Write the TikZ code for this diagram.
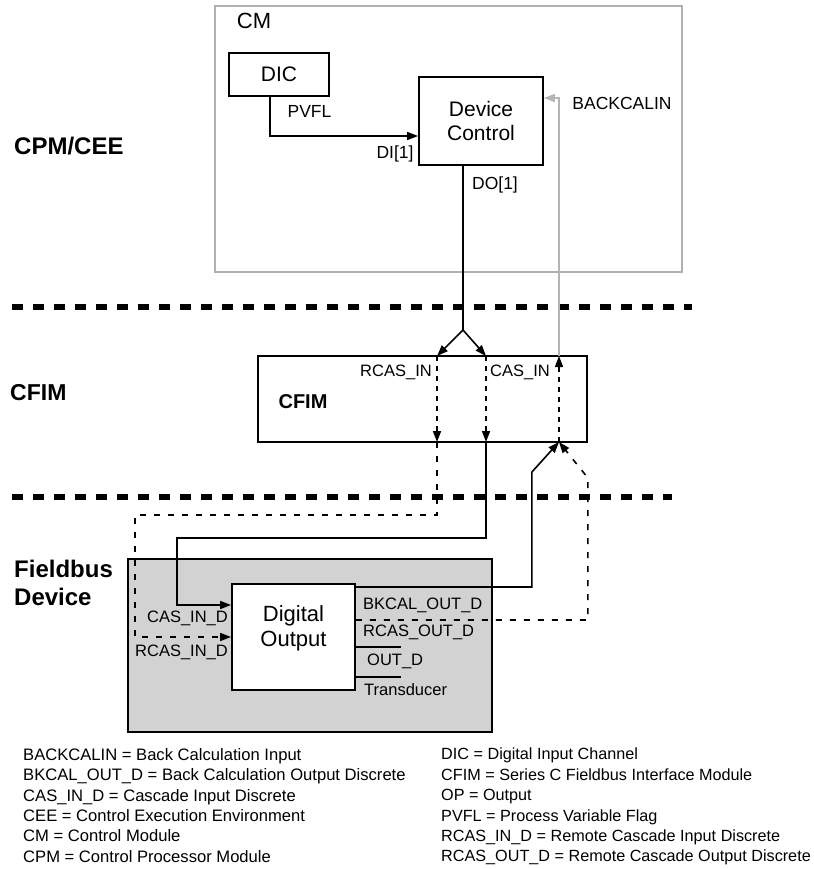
\documentclass[tikz,border=0pt]{standalone}
\usepackage{fontspec}
\setmainfont{Liberation Sans}
\usetikzlibrary{arrows.meta,positioning}
\definecolor{cmgray}{HTML}{B0B0B0}
\definecolor{backgray}{HTML}{B4B4B4}
\definecolor{devgray}{HTML}{D2D2D2}

\begin{document}
\begin{tikzpicture}[
  x=1pt,y=-1pt,
  blk/.style={rectangle,draw=black,line width=1.8pt,fill=white,align=center,inner sep=0pt},
  lbl/.style={inner sep=0pt,font=\fontsize{17.5}{20}\selectfont},
  sml/.style={inner sep=0pt,font=\fontsize{16.5}{19}\selectfont},
  ttl/.style={inner sep=0pt,align=left,font=\fontsize{24}{28}\selectfont\bfseries},
  arr/.style={-{Triangle[length=11pt,width=8pt]},line width=1.6pt},
  darr/.style={arr,dash pattern=on 5pt off 5pt},
  dotarr/.style={arr,dash pattern=on 6pt off 8pt},
  zone/.style={line width=6pt,dash pattern=on 11pt off 10pt},
  leg/.style={inner sep=0pt,anchor=north west,align=left,font=\fontsize{16.6}{20.4}\selectfont}
]
\useasboundingbox (0,0) rectangle (813,869);
% zone borders
\draw[zone] (12,307) -- (692,307);
\draw[zone] (12,497) -- (672,497);
\node[ttl,anchor=west] (cpm) at (14,146) {CPM/CEE};
\node[ttl,anchor=west,font=\fontsize{23}{28}\selectfont\bfseries] (cfimzone) at (10,393) {CFIM};
\node[ttl,anchor=west] (fbus) at (14,583) {Fieldbus\\Device};
% control module
\node[draw=cmgray,line width=1.6pt,minimum width=467pt,minimum height=266pt,inner sep=0pt] (cm) at (448.5,139) {};
\node[lbl,font=\fontsize{22}{24}\selectfont] (cmlbl) at (254,21) {CM};
\node[blk,minimum width=100pt,minimum height=43pt,font=\fontsize{21}{24}\selectfont] (dic) at (279,74.5) {DIC};
\node[blk,minimum width=124pt,minimum height=88pt,font=\fontsize{21}{24}\selectfont] (devctl) at (481,121) {Device\\Control};
\draw[arr] ([xshift=-9pt]dic.south) |- ([yshift=-15pt]devctl.west);
\node[lbl] (pvfl) at (309.5,111) {PVFL};
\node[lbl] (di) at (395,154) {DI[1]};
\node[lbl] (do) at (495,184.5) {DO[1]};
\node[lbl] (bcin) at (622,103.5) {BACKCALIN};
% CFIM
\node[blk,minimum width=329pt,minimum height=86pt] (cfim) at (422.5,399) {};
\node[inner sep=0pt,font=\fontsize{20}{24}\selectfont\bfseries] (cfimlbl) at (303,402) {CFIM};
\coordinate (rin) at (437,356);
\coordinate (rinb) at (437,442);
\coordinate (cin) at (486,356);
\coordinate (cinb) at (486,442);
\coordinate (bk) at (559,356);
\coordinate (bkb) at (559,442);
\coordinate (split) at (463,330);
\node[sml] (rcasin) at (396,372) {RCAS\_IN};
\node[sml] (casin) at (520,372) {CAS\_IN};
\draw[line width=1.6pt] ([xshift=-18pt]devctl.south) -- (split);
\draw[arr] (split) -- (rin);
\draw[arr] (split) -- (cin);
\draw[arr,draw=backgray] (bk) |- ([yshift=23pt]devctl.east);
\draw[darr] (rin) -- (rinb);
\draw[darr] (cin) -- (cinb);
\draw[darr] (bkb) -- (bk);
% fieldbus device
\node[draw=black,line width=1.8pt,fill=devgray,minimum width=364pt,minimum height=173pt,inner sep=0pt] (dev) at (310,645.5) {};
\node[blk,minimum width=123pt,minimum height=106pt] (dout) at (293.5,637) {};
\node[inner sep=0pt,align=center,font=\fontsize{22}{25}\selectfont] (douttxt) at (293.5,628) {Digital\\Output};
\draw[dotarr] (rinb) -- ++(0,73) -- ++(-302,0) |- (dout.west);
\draw[arr] (cinb) -- ++(0,96) -- ++(-309,0) |- ([yshift=32pt]dout.west);
\draw[arr] ([yshift=50pt]dout.east) -- ++(176,0) -- ++(0,-115) -- (bkb);
\draw[dotarr] ([yshift=17pt]dout.east) -- ++(232,0) -- ++(0,-142) -- (bkb);
\draw[line width=1.4pt] ([yshift=-10pt]dout.east) -- ++(45,0);
\draw[line width=1.4pt] ([yshift=-40pt]dout.east) -- ++(45,0);
\node[sml,anchor=west] (bkout) at (363,605) {BKCAL\_OUT\_D};
\node[sml,anchor=west] (rcasout) at (363,632) {RCAS\_OUT\_D};
\node[sml,anchor=west] (outd) at (367,661) {OUT\_D};
\node[sml,anchor=west] (trans) at (364,690) {Transducer};
\node[sml,anchor=east] (casind) at (228,618) {CAS\_IN\_D};
\node[sml,anchor=east] (rcasind) at (228,652) {RCAS\_IN\_D};
% legend
\node[leg] (legl) at (23,748) {BACKCALIN = Back Calculation Input\\
  BKCAL\_OUT\_D = Back Calculation Output Discrete\\
  CAS\_IN\_D = Cascade Input Discrete\\
  CEE = Control Execution Environment\\
  CM = Control Module\\
  CPM = Control Processor Module};
\node[leg,font=\fontsize{16.2}{20.4}\selectfont] (legr) at (441,748) {DIC = Digital Input Channel\\
  CFIM = Series C Fieldbus Interface Module\\
  OP = Output\\
  PVFL = Process Variable Flag\\
  RCAS\_IN\_D = Remote Cascade Input Discrete\\
  RCAS\_OUT\_D = Remote Cascade Output Discrete};
\end{tikzpicture}
\end{document}
